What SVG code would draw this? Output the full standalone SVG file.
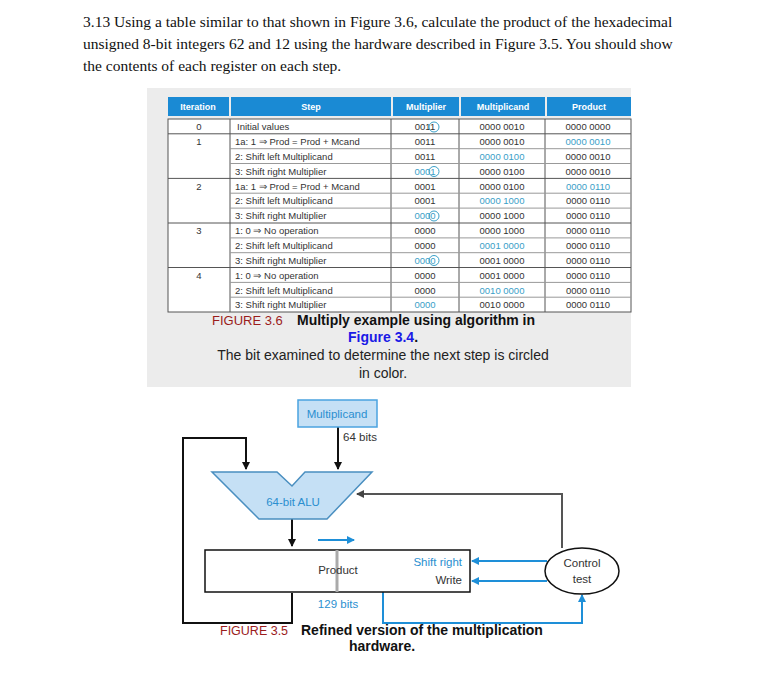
<svg xmlns="http://www.w3.org/2000/svg" width="780" height="688" viewBox="0 0 780 688">
<defs>
<style>
.q{font-family:"Liberation Serif",serif;font-size:15.5px;fill:#111}
.h{font-family:"Liberation Sans",sans-serif;font-size:9px;font-weight:bold;fill:#fff;text-anchor:middle}
.t{font-family:"Liberation Sans",sans-serif;font-size:9.5px;fill:#333}
.c{text-anchor:middle}
.b{fill:#3aa0c8}
.cap{font-family:"Liberation Sans",sans-serif;font-size:14px;font-weight:bold;fill:#111}
.red{fill:#9b1c1c}
.s{font-family:"Liberation Sans",sans-serif;font-size:11.5px;fill:#333}
.ln{stroke:#555;stroke-width:1}
</style>
<marker id="ak" markerWidth="8" markerHeight="8" refX="7" refY="4" orient="auto" markerUnits="userSpaceOnUse"><path d="M0,0 L8,4 L0,8z" fill="#111"/></marker>
<marker id="ag" markerWidth="8" markerHeight="8" refX="7" refY="4" orient="auto" markerUnits="userSpaceOnUse"><path d="M0,0 L8,4 L0,8z" fill="#444"/></marker>
<marker id="ab" markerWidth="8" markerHeight="8" refX="7" refY="4" orient="auto" markerUnits="userSpaceOnUse"><path d="M0,0 L8,4 L0,8z" fill="#1e8fd8"/></marker>
</defs>
<rect width="780" height="688" fill="#fff"/>
<text class="q" x="83" y="27">3.13 Using a table similar to that shown in Figure 3.6, calculate the product of the hexadecimal</text>
<text class="q" x="83" y="49">unsigned 8-bit integers 62 and 12 using the hardware described in Figure 3.5. You should show</text>
<text class="q" x="83" y="71">the contents of each register on each step.</text>
<g id="table">
<rect x="147" y="88" width="484" height="299" fill="#ececec"/>
<g fill="#1a8ad4">
<rect x="168" y="97" width="61" height="19"/><rect x="231" y="97" width="160" height="19"/><rect x="393" y="97" width="66" height="19"/><rect x="461" y="97" width="84" height="19"/><rect x="547" y="97" width="84" height="19"/>
</g>
<text class="h" x="198" y="110">Iteration</text><text class="h" x="311" y="110">Step</text><text class="h" x="426" y="110">Multiplier</text><text class="h" x="503" y="110">Multiplicand</text><text class="h" x="589" y="110">Product</text>
<rect x="168" y="119" width="463" height="193" fill="#fff" stroke="#555"/>
<g class="ln">
<line x1="230" y1="119" x2="230" y2="312"/><line x1="391" y1="119" x2="391" y2="312"/><line x1="459" y1="119" x2="459" y2="312"/><line x1="545" y1="119" x2="545" y2="312"/>
<line x1="168" y1="133.8" x2="631" y2="133.8"/><line x1="168" y1="178.4" x2="631" y2="178.4"/><line x1="168" y1="223" x2="631" y2="223"/><line x1="168" y1="267.5" x2="631" y2="267.5"/>
<g stroke="#999"><line x1="230" y1="148.7" x2="631" y2="148.7"/><line x1="230" y1="163.5" x2="631" y2="163.5"/><line x1="230" y1="193.2" x2="631" y2="193.2"/><line x1="230" y1="208.1" x2="631" y2="208.1"/><line x1="230" y1="237.9" x2="631" y2="237.9"/><line x1="230" y1="252.7" x2="631" y2="252.7"/><line x1="230" y1="282.4" x2="631" y2="282.4"/><line x1="230" y1="297.2" x2="631" y2="297.2"/></g>
</g>
<g class="t">
<text class="c" x="199" y="130">0</text><text class="c" x="199" y="145">1</text><text class="c" x="199" y="190">2</text><text class="c" x="199" y="234">3</text><text class="c" x="199" y="279">4</text>
<text x="237" y="130">Initial values</text>
<text x="235" y="145">1a: 1 ⇒ Prod = Prod + Mcand</text>
<text x="235" y="160">2: Shift left Multiplicand</text>
<text x="235" y="175">3: Shift right Multiplier</text>
<text x="235" y="190">1a: 1 ⇒ Prod = Prod + Mcand</text>
<text x="235" y="204">2: Shift left Multiplicand</text>
<text x="235" y="219">3: Shift right Multiplier</text>
<text x="235" y="234">1: 0 ⇒ No operation</text>
<text x="235" y="249">2: Shift left Multiplicand</text>
<text x="235" y="264">3: Shift right Multiplier</text>
<text x="235" y="279">1: 0 ⇒ No operation</text>
<text x="235" y="294">2: Shift left Multiplicand</text>
<text x="235" y="308">3: Shift right Multiplier</text>
</g>
<g class="t c">
<text x="425" y="130">0011</text><text x="425" y="145">0011</text><text x="425" y="160">0011</text><text class="b" x="425" y="175">0001</text><text x="425" y="190">0001</text><text x="425" y="204">0001</text><text class="b" x="425" y="219">0000</text><text x="425" y="234">0000</text><text x="425" y="249">0000</text><text class="b" x="425" y="264">0000</text><text x="425" y="279">0000</text><text x="425" y="294">0000</text><text class="b" x="425" y="308">0000</text>
<text x="502" y="130">0000 0010</text><text x="502" y="145">0000 0010</text><text class="b" x="502" y="160">0000 0100</text><text x="502" y="175">0000 0100</text><text x="502" y="190">0000 0100</text><text class="b" x="502" y="204">0000 1000</text><text x="502" y="219">0000 1000</text><text x="502" y="234">0000 1000</text><text class="b" x="502" y="249">0001 0000</text><text x="502" y="264">0001 0000</text><text x="502" y="279">0001 0000</text><text class="b" x="502" y="294">0010 0000</text><text x="502" y="308">0010 0000</text>
<text x="588" y="130">0000 0000</text><text class="b" x="588" y="145">0000 0010</text><text x="588" y="160">0000 0010</text><text x="588" y="175">0000 0010</text><text class="b" x="588" y="190">0000 0110</text><text x="588" y="204">0000 0110</text><text x="588" y="219">0000 0110</text><text x="588" y="234">0000 0110</text><text x="588" y="249">0000 0110</text><text x="588" y="264">0000 0110</text><text x="588" y="279">0000 0110</text><text x="588" y="294">0000 0110</text><text x="588" y="308">0000 0110</text>
</g>
<g fill="none" stroke="#3aa0c8" stroke-width="1"><circle cx="434" cy="127" r="5"/><circle cx="434" cy="171.5" r="5"/><circle cx="434" cy="216" r="5"/><circle cx="434" cy="260.5" r="5"/></g>
<text class="cap" x="212" y="325"><tspan class="red" font-weight="normal" font-size="13">FIGURE 3.6</tspan><tspan x="297">Multiply example using algorithm in</tspan></text>
<text class="cap c" x="383" y="342" fill="#1a1ae6"><tspan fill="#1a1ae6">Figure 3.4</tspan><tspan fill="#111">.</tspan></text>
<text font-family="Liberation Sans,sans-serif" font-size="14" fill="#222" text-anchor="middle" x="383" y="360">The bit examined to determine the next step is circled</text>
<text font-family="Liberation Sans,sans-serif" font-size="14" fill="#222" text-anchor="middle" x="383" y="378">in color.</text>
</g>
<g id="connectors" fill="none" stroke-width="2">
<path d="M338,427 V469" stroke="#111" marker-end="url(#ak)"/>
<path d="M292,593 V623 H183 V438 H246 V469" stroke="#111" marker-end="url(#ak)"/>
<path d="M292,519 V546" stroke="#111" marker-end="url(#ak)"/>
<path d="M562,548 V494 H357" stroke="#555" marker-end="url(#ag)"/>
<path d="M318,540 H354" stroke="#1e8fd8" marker-end="url(#ab)"/>
<path d="M547,561 H472" stroke="#1e8fd8" marker-end="url(#ab)"/>
<path d="M547,581 H472" stroke="#1e8fd8" marker-end="url(#ab)"/>
<path d="M383,592 V623 H582 V595" stroke="#1e8fd8" marker-end="url(#ab)"/>
</g>
<g id="multiplicand"><rect x="298" y="400" width="79" height="27" fill="#c5e0f5" stroke="#4aa3df" stroke-width="1.5"/><text class="s c" x="337" y="418" style="fill:#2a8fd0">Multiplicand</text></g>
<text class="s" x="343" y="441">64 bits</text>
<g id="alu"><path d="M212,472 H277 L292,486 L305,472 H372 L327,519 H259 Z" fill="#c5e0f5" stroke="#4a8fc0" stroke-width="1.5"/><text class="s c" x="293" y="506" style="fill:#2a8fd0">64-bit ALU</text></g>
<g id="product"><rect x="205" y="550" width="265" height="42" fill="#fff" stroke="#111" stroke-width="1.5"/><line x1="337" y1="550" x2="337" y2="592" stroke="#aaa" stroke-width="3"/><text class="s c" x="338" y="574">Product</text><text class="s" x="462" y="566" text-anchor="end" style="fill:#2a8fd0">Shift right</text><text class="s" x="462" y="584" text-anchor="end">Write</text></g>
<text class="s c" x="338" y="608" style="fill:#2a8fd0">129 bits</text>
<g id="control"><ellipse cx="582" cy="571" rx="37" ry="23" fill="#fff" stroke="#111" stroke-width="1.5"/><text class="s c" x="582" y="567">Control</text><text class="s c" x="582" y="583">test</text></g>
<text class="cap" x="220" y="635"><tspan class="red" font-weight="normal" font-size="12.5">FIGURE 3.5</tspan><tspan x="301">Refined version of the multiplication</tspan></text>
<text class="cap c" x="382" y="651">hardware.</text>
</svg>
